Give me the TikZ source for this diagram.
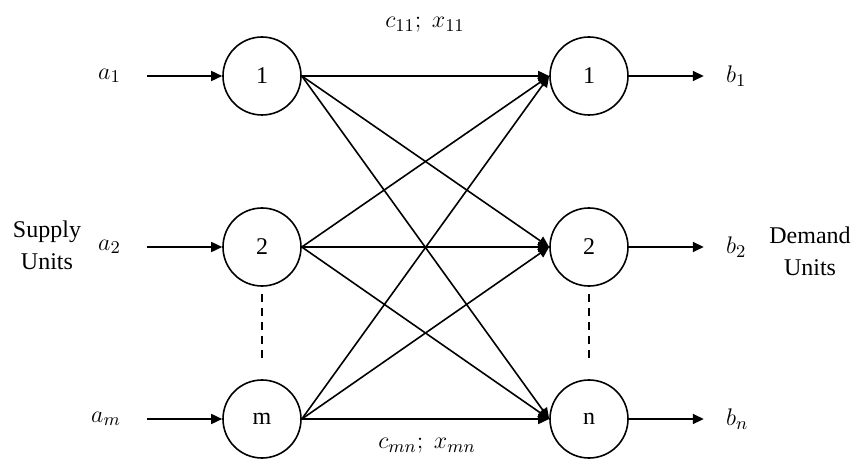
\documentclass[tikz,border=0pt]{standalone}
\usepackage{fontspec}
\setmainfont{Liberation Serif}
\usetikzlibrary{arrows.meta,positioning}

\begin{document}
\begin{tikzpicture}[
  x=0.5pt,y=-0.5pt,
  node distance=10pt,
  unit/.style={draw,circle,line width=0.8pt,minimum size=39pt,inner sep=0pt,font=\fontsize{12}{14}\selectfont},
  arr/.style={-{Triangle[length=5.5pt,width=5pt]},line width=0.8pt},
  lbl/.style={inner sep=1pt,font=\fontsize{13}{15}\selectfont},
  side/.style={align=center,inner sep=0pt,font=\fontsize{12}{16}\selectfont}
]
\useasboundingbox (0,0) rectangle (858,460);
% supply and demand nodes
\node[unit] (s1) at (262,76) {1};
\node[unit] (s2) at (262,247) {2};
\node[unit] (sm) at (262,419) {m};
\node[unit] (d1) at (589,76) {1};
\node[unit] (d2) at (589,247) {2};
\node[unit] (dn) at (589,419) {n};
% inputs
\coordinate[left=37.5pt of s1] (in1);
\coordinate[left=37.5pt of s2] (in2);
\coordinate[left=37.5pt of sm] (inm);
\node[lbl,left=12pt of in1] (a1) {$a_1$};
\node[lbl,left=12pt of in2] (a2) {$a_2$};
\node[lbl,left=12pt of inm] (am) {$a_m$};
\draw[arr] (in1) -- (s1);
\draw[arr] (in2) -- (s2);
\draw[arr] (inm) -- (sm);
% outputs
\coordinate[right=37.5pt of d1] (out1);
\coordinate[right=37.5pt of d2] (out2);
\coordinate[right=37.5pt of dn] (outn);
\node[lbl,right=10pt of out1] (b1) {$b_1$};
\node[lbl,right=10pt of out2] (b2) {$b_2$};
\node[lbl,right=10pt of outn] (bn) {$b_n$};
\draw[arr] (d1) -- (out1);
\draw[arr] (d2) -- (out2);
\draw[arr] (dn) -- (outn);
% transport links
\foreach \s in {s1,s2,sm}
  \foreach \d in {d1,d2,dn}
    \draw[arr] (\s.east) -- (\d.west);
\draw[dashed,dash pattern=on 4pt off 3pt,line width=0.8pt] ([yshift=-3.5pt]s2.south) -- ([yshift=10pt]sm.north);
\draw[dashed,dash pattern=on 4pt off 3pt,line width=0.8pt] ([yshift=-3.5pt]d2.south) -- ([yshift=10pt]dn.north);
\node[lbl] (c11) at (425,25) {$c_{11};\ x_{11}$};
\node[lbl] (cmn) at (427,446) {$c_{mn};\ x_{mn}$};
\node[side] (supply) at (47,245) {Supply\\Units};
\node[side] (demand) at (810,251) {Demand\\Units};
\end{tikzpicture}
\end{document}
